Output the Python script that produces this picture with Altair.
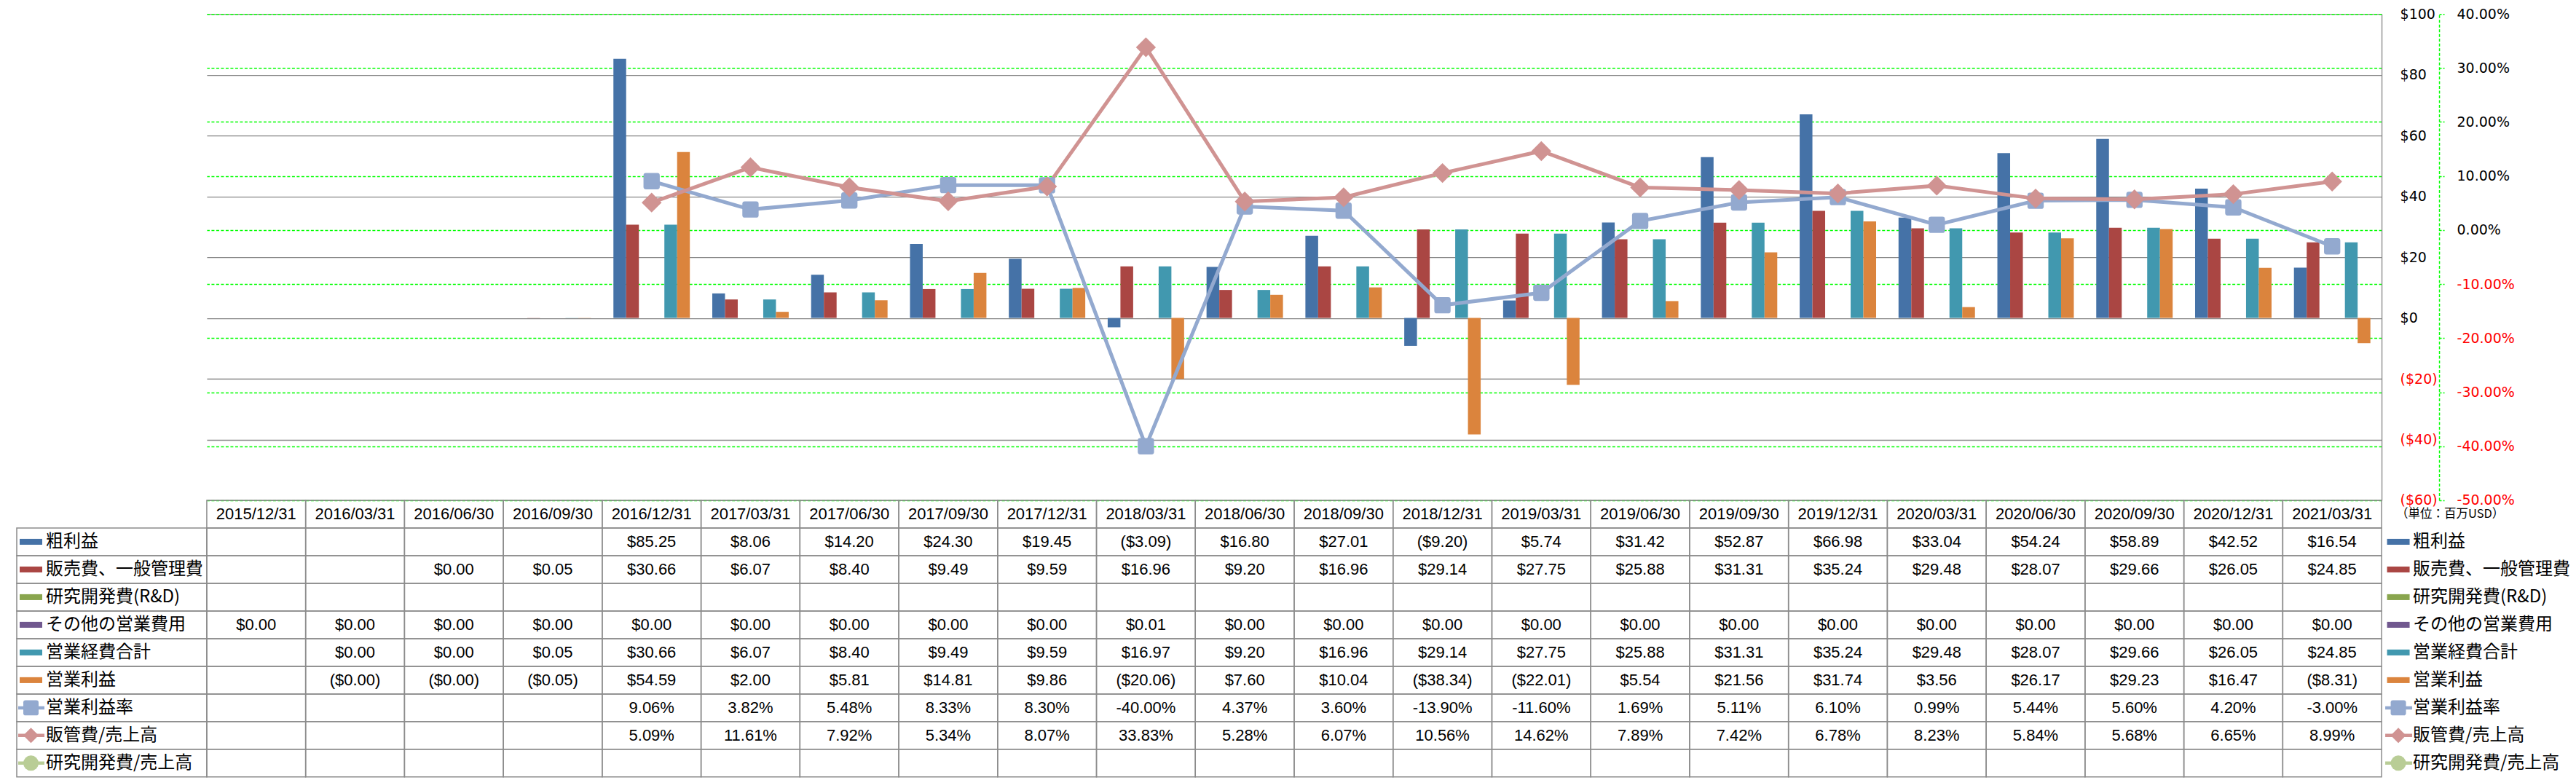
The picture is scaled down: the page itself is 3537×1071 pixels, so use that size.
import altair as alt
import pandas as pd

# ---------------- data ----------------
dates = ["2015/12/31", "2016/03/31", "2016/06/30", "2016/09/30", "2016/12/31",
         "2017/03/31", "2017/06/30", "2017/09/30", "2017/12/31", "2018/03/31",
         "2018/06/30", "2018/09/30", "2018/12/31", "2019/03/31", "2019/06/30",
         "2019/09/30", "2019/12/31", "2020/03/31", "2020/06/30", "2020/09/30",
         "2020/12/31", "2021/03/31"]

bar_series = ["粗利益", "販売費、一般管理費", "研究開発費(R&D)", "その他の営業費用", "営業経費合計", "営業利益"]
line_series = ["営業利益率", "販管費/売上高", "研究開発費/売上高"]
bar_colors = ["#4572A7", "#AA4643", "#89A54E", "#71588F", "#4198AF", "#DB843D"]
line_colors = ["#93A9CF", "#D09392", "#B9CD96"]

N = None
gross_profit = [N, N, N, N, 85.25, 8.06, 14.20, 24.30, 19.45, -3.09, 16.80, 27.01, -9.20, 5.74,
                31.42, 52.87, 66.98, 33.04, 54.24, 58.89, 42.52, 16.54]
sga = [N, N, 0.00, 0.05, 30.66, 6.07, 8.40, 9.49, 9.59, 16.96, 9.20, 16.96, 29.14, 27.75,
       25.88, 31.31, 35.24, 29.48, 28.07, 29.66, 26.05, 24.85]
rnd = [N] * 22
other_opex = [0.00, 0.00, 0.00, 0.00, 0.00, 0.00, 0.00, 0.00, 0.00, 0.01, 0.00, 0.00, 0.00, 0.00,
              0.00, 0.00, 0.00, 0.00, 0.00, 0.00, 0.00, 0.00]
total_opex = [N, 0.00, 0.00, 0.05, 30.66, 6.07, 8.40, 9.49, 9.59, 16.97, 9.20, 16.96, 29.14, 27.75,
              25.88, 31.31, 35.24, 29.48, 28.07, 29.66, 26.05, 24.85]
# "($0.00)" = tiny negative values
op_income = [N, -0.004, -0.004, -0.05, 54.59, 2.00, 5.81, 14.81, 9.86, -20.06, 7.60, 10.04, -38.34,
             -22.01, 5.54, 21.56, 31.74, 3.56, 26.17, 29.23, 16.47, -8.31]
op_margin = [N, N, N, N, 9.06, 3.82, 5.48, 8.33, 8.30, -40.00, 4.37, 3.60, -13.90, -11.60,
             1.69, 5.11, 6.10, 0.99, 5.44, 5.60, 4.20, -3.00]
sga_ratio = [N, N, N, N, 5.09, 11.61, 7.92, 5.34, 8.07, 33.83, 5.28, 6.07, 10.56, 14.62,
             7.89, 7.42, 6.78, 8.23, 5.84, 5.68, 6.65, 8.99]
rnd_ratio = [N] * 22

bar_values = [gross_profit, sga, rnd, other_opex, total_opex, op_income]
line_values = [op_margin, sga_ratio, rnd_ratio]

usd_ticks = [-60, -40, -20, 0, 20, 40, 60, 80, 100]
pct_ticks = [-50, -40, -30, -20, -10, 0, 10, 20, 30, 40]
unit_label = "（単位：百万USD）"

# ---------------- tables ----------------
bar_rows = []
for s, vals in zip(bar_series, bar_values):
    for d, v in zip(dates, vals):
        if v is not None:
            bar_rows.append({"date": d, "series": s, "value": v})
bar_df = pd.DataFrame(bar_rows)

line_rows = []
for s, vals in zip(line_series, line_values):
    for d, v in zip(dates, vals):
        if v is not None:
            line_rows.append({"date": d, "series": s, "pct": v})
line_df = pd.DataFrame(line_rows)


def fmt_usd(v):
    return f"(${abs(v):.2f})" if v < 0 else f"${v:.2f}"


def fmt_pct(v):
    return f"{v:.2f}%"


row_keys = [f"r{i}" for i in range(10)]
all_names = bar_series + line_series
all_colors = bar_colors + line_colors

text_rows = []
for d in dates:
    text_rows.append({"date": d, "row": "r0", "label": d})
for i, vals in enumerate(bar_values):
    for d, v in zip(dates, vals):
        if v is not None:
            text_rows.append({"date": d, "row": row_keys[i + 1], "label": fmt_usd(v)})
for i, vals in enumerate(line_values):
    for d, v in zip(dates, vals):
        if v is not None:
            text_rows.append({"date": d, "row": row_keys[i + 7], "label": fmt_pct(v)})
text_df = pd.DataFrame(text_rows)
cells_df = pd.DataFrame([{"date": d, "row": r} for r in row_keys for d in dates])

leg_df = pd.DataFrame({"row": row_keys[1:], "name": all_names,
                       "kind": ["bar"] * 6 + ["line"] * 3, "col": ["a"] * 9})

# ---------------- sizes / styles ----------------
W = 2987
H_MAIN = 668
H_TAB = 380
LEG_L = 261
LEG_R = 255
GRAY = "#868686"
GREEN = "#00FF00"
CJK = "Noto Sans CJK JP"
ROUNDED_SQ = "M-0.7,-1H0.7Q1,-1,1,-0.7V0.7Q1,1,0.7,1H-0.7Q-1,1,-1,0.7V-0.7Q-1,-1,-0.7,-1Z"
SWATCH = "M-1,-0.26H1V0.26H-1Z"

xscale = alt.Scale(domain=dates, paddingInner=0, paddingOuter=0)
x_enc = alt.X("date:N", scale=xscale, axis=None)

# ---------------- main chart ----------------
usd_axis = alt.Axis(
    orient="right", values=usd_ticks, grid=True, gridColor=GRAY, gridWidth=1.3,
    domain=True, domainColor=GRAY, domainWidth=1.3, ticks=False,
    labelPadding=25, labelAlign="left", labelFont="DejaVu Sans", labelFontSize=19,
    labelExpr="datum.value < 0 ? '($' + abs(datum.value) + ')' : '$' + datum.value",
    labelColor=alt.condition("datum.value < 0", alt.value("#FF0000"), alt.value("#000000")),
    title=None,
)
pct_axis = alt.Axis(
    orient="right", offset=79, values=pct_ticks, grid=True, gridColor=GREEN, gridWidth=1.5,
    gridDash=[4, 2.5], domain=True, domainColor=GREEN, domainWidth=1.5, domainDash=[4, 2.5],
    ticks=True, tickColor=GREEN, tickSize=7, tickWidth=1.5, tickDash=[3, 2],
    labelPadding=17, labelAlign="left", labelFont="DejaVu Sans", labelFontSize=19,
    labelExpr="(datum.value < 0 ? '-' : '') + format(abs(datum.value), '.2f') + '%'",
    labelColor=alt.condition("datum.value < 0", alt.value("#FF0000"), alt.value("#000000")),
    title=None,
)

bars = alt.Chart(bar_df).mark_bar().encode(
    x=x_enc,
    xOffset=alt.XOffset("series:N", scale=alt.Scale(domain=bar_series, paddingInner=0, paddingOuter=0.88)),
    y=alt.Y("value:Q", scale=alt.Scale(domain=[-60, 100], nice=False), axis=usd_axis),
    color=alt.Color("series:N", scale=alt.Scale(domain=bar_series, range=bar_colors), legend=None),
)

pct_y = alt.Y("pct:Q", scale=alt.Scale(domain=[-50, 40], nice=False), axis=pct_axis)
line_color = alt.Color("series:N", scale=alt.Scale(domain=line_series, range=line_colors), legend=None)

lines = alt.Chart(line_df).mark_line(strokeWidth=5).encode(
    x=x_enc, y=pct_y, color=line_color, order=alt.Order("idx:Q")
).transform_calculate(idx="indexof(" + str(dates) + ", datum.date)")

points = alt.Chart(line_df).mark_point(filled=True, opacity=1).encode(
    x=x_enc, y=pct_y, color=line_color,
    shape=alt.Shape("series:N", scale=alt.Scale(domain=line_series, range=[ROUNDED_SQ, "diamond", "circle"]), legend=None),
    size=alt.Size("series:N", scale=alt.Scale(domain=line_series, range=[500, 1000, 500]), legend=None),
)

main = alt.layer(bars, alt.layer(lines, points)).resolve_scale(
    y="independent", color="independent"
).properties(width=W, height=H_MAIN)

# ---------------- data table ----------------
yscale_t = alt.Scale(domain=row_keys, paddingInner=0, paddingOuter=0)
y_t = alt.Y("row:N", scale=yscale_t, axis=None)

table_cells = alt.Chart(cells_df).mark_rect(fillOpacity=0, stroke="#8C8C8C", strokeWidth=1.5).encode(
    x=x_enc, y=y_t
)
table_text = alt.Chart(text_df).mark_text(font="Liberation Sans", fontSize=22, color="black",
                                          baseline="middle").encode(
    x=x_enc, y=y_t, text="label:N"
)
table = alt.layer(table_cells, table_text).properties(width=W, height=H_TAB)

# ---------------- legend columns ----------------
leg_color = alt.Color("name:N", scale=alt.Scale(domain=all_names, range=all_colors), legend=None)


def legend_column(width, sw_x, line_x0, line_x1, text_x, borders, extra=None):
    layers = []
    if borders:
        layers.append(alt.Chart(leg_df).mark_rect(fillOpacity=0, stroke="#8C8C8C", strokeWidth=1.5).encode(
            x=alt.X("col:N", axis=None, scale=alt.Scale(paddingInner=0, paddingOuter=0)), y=y_t))
    layers.append(alt.Chart(leg_df).transform_filter("datum.kind == 'bar'").mark_point(
        shape=SWATCH, size=961, filled=True, opacity=1).encode(
        x=alt.value(sw_x), y=y_t, color=leg_color))
    layers.append(alt.Chart(leg_df).transform_filter("datum.kind == 'line'").mark_rule(strokeWidth=4.5).encode(
        x=alt.value(line_x0), x2=alt.value(line_x1), y=y_t, color=leg_color))
    layers.append(alt.Chart(leg_df).transform_filter("datum.kind == 'line'").mark_point(
        filled=True, opacity=1, size=441).encode(
        x=alt.value(sw_x), y=y_t, color=leg_color,
        shape=alt.Shape("name:N", scale=alt.Scale(domain=line_series, range=[ROUNDED_SQ, "diamond", "circle"]), legend=None)))
    layers.append(alt.Chart(leg_df).mark_text(align="left", baseline="middle", font=CJK, fontSize=24,
                                              color="black").encode(
        x=alt.value(text_x), y=y_t, text="name:N"))
    if extra is not None:
        layers.append(extra)
    return alt.layer(*layers).properties(width=width, height=H_TAB)


unit_df = pd.DataFrame({"row": ["r0"], "label": [unit_label]})
unit_text = alt.Chart(unit_df).mark_text(align="left", baseline="middle", font=CJK, fontSize=16.5,
                                         color="black").encode(
    x=alt.value(20), y=alt.Y("row:N", scale=yscale_t, axis=None), text="label:N")

leg_left = legend_column(LEG_L, 19.5, 2, 38, 40, True)
leg_right = legend_column(LEG_R, 23, 5, 42, 43, False, unit_text)

spacer_df = pd.DataFrame({"a": [0]})
spacer_l = alt.Chart(spacer_df).mark_text(text="").encode(x=alt.value(0), y=alt.value(0)).properties(
    width=LEG_L, height=H_MAIN)
spacer_r = alt.Chart(spacer_df).mark_text(text="").encode(x=alt.value(0), y=alt.value(0)).properties(
    width=LEG_R, height=H_MAIN)

chart = alt.concat(
    spacer_l, main, spacer_r, leg_left, table, leg_right,
    columns=3, spacing=0, bounds="flush",
).properties(
    padding={"left": 14, "top": 2, "right": 0, "bottom": 0}
).configure_view(stroke=None)

chart.save("out.html", embed_options={"renderer": "svg", "actions": False})
